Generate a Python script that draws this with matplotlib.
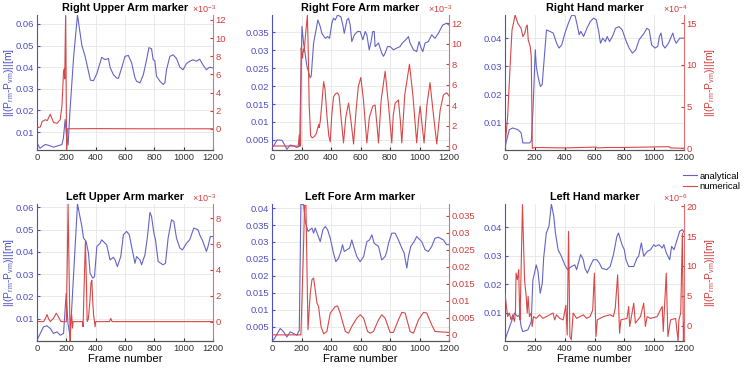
import matplotlib
matplotlib.use("Agg")
import matplotlib.pyplot as plt
from matplotlib.ticker import FuncFormatter
from matplotlib.lines import Line2D

plt.rcParams["font.family"] = ["Liberation Sans", "DejaVu Sans"]
plt.rcParams["mathtext.default"] = "regular"

BLUE = "#4f4fc4"
BLUE_LINE = "#6464c8"
RED = "#d03c3c"
RED_LINE = "#d84848"

# --- Right Upper Arm
rua_fa = [0, 20, 57, 90, 113, 140, 170, 180, 192, 200, 212, 225, 250, 276, 306, 328, 351, 364, 385,
          408, 430, 441, 464, 487, 498, 521, 543, 555, 577, 600, 623, 645, 668, 679, 702, 725, 747,
          763, 781, 792, 803, 815, 838, 860, 872, 883, 906, 928, 951, 974, 996, 1019, 1041, 1064,
          1087, 1109, 1132, 1155, 1177, 1200]
rua_a = [0.0050, 0.0025, 0.0043, 0.0036, 0.0030, 0.0036, 0.0042, 0.0072, 0.0158, 0.0090, 0.0040,
         0.0200, 0.0450, 0.0641, 0.0500, 0.0450, 0.0380, 0.0340, 0.0337, 0.0370, 0.0420, 0.0445,
         0.0435, 0.0440, 0.0400, 0.0365, 0.0350, 0.0348, 0.0396, 0.0450, 0.0454, 0.0420, 0.0350,
         0.0335, 0.0327, 0.0365, 0.0434, 0.0490, 0.0485, 0.0434, 0.0430, 0.0358, 0.0335, 0.0320,
         0.0328, 0.0388, 0.0450, 0.0457, 0.0440, 0.0400, 0.0388, 0.0416, 0.0427, 0.0434, 0.0427,
         0.0437, 0.0410, 0.0388, 0.0400, 0.0396]
rua_fn = [0, 23, 35, 57, 70, 90, 113, 136, 158, 170, 181, 186, 189, 195, 202, 207, 400, 700, 1200]
rua_n = [0.1, 0.2, 0.8, 1.0, 0.9, 1.6, 0.7, 0.6, 1.0, 2.5, 6.3, 6.6, 5.5, 12.5, -2.3, 0.0, 0.02,
         0.0, 0.0]  # x1e-3

# --- Right Fore Arm
rfa_fa = [0, 11, 34, 68, 90, 101, 124, 147, 169, 187, 203, 214, 237, 259, 266, 282, 311, 327, 338,
          361, 377, 390, 406, 417, 429, 444, 467, 480, 490, 508, 519, 530, 541, 559, 580, 598, 616,
          632, 643, 659, 670, 683, 693, 699, 722, 744, 756, 767, 783, 801, 823, 846, 868, 884, 907,
          925, 936, 959, 981, 997, 1011, 1022, 1038, 1060, 1083, 1105, 1128, 1157, 1184, 1200]
rfa_a = [0.0033, 0.0033, 0.0050, 0.0049, 0.0033, 0.0024, 0.0036, 0.0033, 0.0029, 0.0033, 0.0366,
         0.0320, 0.0255, 0.0223, 0.0228, 0.0320, 0.0384, 0.0366, 0.0347, 0.0333, 0.0338, 0.0333,
         0.0375, 0.0389, 0.0384, 0.0398, 0.0393, 0.0370, 0.0347, 0.0384, 0.0389, 0.0370, 0.0324,
         0.0343, 0.0352, 0.0352, 0.0329, 0.0352, 0.0343, 0.0301, 0.0320, 0.0352, 0.0352, 0.0310,
         0.0320, 0.0292, 0.0283, 0.0292, 0.0310, 0.0310, 0.0301, 0.0306, 0.0310, 0.0320, 0.0329,
         0.0338, 0.0320, 0.0301, 0.0296, 0.0324, 0.0306, 0.0296, 0.0320, 0.0324, 0.0343, 0.0333,
         0.0347, 0.0370, 0.0375, 0.0370]
rfa_fn = [0, 178, 185, 189, 194, 198, 203, 207, 212, 218, 228, 240, 246, 252, 262, 272, 285, 300,
          316, 320, 327, 340, 350, 360, 372, 385, 395, 405, 417, 430, 444, 455, 470, 485, 500, 519,
          535, 553, 570, 585, 602, 620, 643, 660, 683, 699, 712, 722, 740, 767, 790, 812, 822, 835,
          857, 870, 880, 900, 932, 955, 981, 993, 1004, 1018, 1031, 1050, 1071, 1095, 1117, 1140,
          1162, 1185, 1200]
rfa_n = [0.0, 0.0, 1.1, 0.0, 0.0, 9.6, 9.0, 8.6, 9.5, 9.2, 11.0, 12.8, 9.0, 4.0, 1.0, 0.8, 0.9,
         1.2, 2.1, 1.8, 2.4, 4.5, 6.3, 5.5, 3.0, 1.0, 0.4, 3.0, 4.8, 5.1, 5.2, 4.9, 2.5, 0.3, 2.8,
         4.2, 2.5, 0.2, 3.5, 5.8, 6.7, 4.5, 0.3, 2.8, 3.9, 4.0, 2.0, 0.3, 4.5, 7.3, 4.0, 0.3, 3.0,
         4.2, 4.5, 2.5, 0.3, 5.0, 8.0, 5.0, 0.3, 2.5, 3.9, 2.0, 0.3, 4.0, 6.2, 3.0, 0.2, 3.5, 5.0,
         5.2, 4.9]  # x1e-3

# --- Right Hand
rh_fa = [0, 7, 29, 52, 86, 108, 120, 165, 176, 188, 203, 210, 221, 237, 249, 278, 301, 323, 346,
         362, 380, 402, 425, 447, 470, 486, 497, 508, 527, 549, 572, 594, 612, 628, 640, 655, 673,
         685, 701, 714, 725, 741, 764, 786, 809, 832, 854, 877, 899, 933, 951, 967, 983, 1006, 1024,
         1035, 1046, 1058, 1073, 1096, 1125, 1137, 1148, 1171, 1200]
rh_a = [0.0006, 0.0030, 0.0076, 0.0082, 0.0076, 0.0065, 0.0029, 0.0029, 0.0035, 0.0150, 0.0359,
        0.0300, 0.0265, 0.0229, 0.0235, 0.0429, 0.0424, 0.0418, 0.0382, 0.0365, 0.0376, 0.0418,
        0.0453, 0.0482, 0.0479, 0.0441, 0.0412, 0.0424, 0.0406, 0.0435, 0.0459, 0.0471, 0.0465,
        0.0424, 0.0382, 0.0400, 0.0388, 0.0406, 0.0388, 0.0400, 0.0412, 0.0435, 0.0441, 0.0429,
        0.0394, 0.0365, 0.0347, 0.0359, 0.0394, 0.0418, 0.0435, 0.0429, 0.0376, 0.0365, 0.0371,
        0.0406, 0.0418, 0.0376, 0.0365, 0.0382, 0.0418, 0.0394, 0.0382, 0.0400, 0.0400]
rh_fn = [0, 18, 34, 47, 68, 86, 108, 120, 133, 142, 149, 156, 169, 176, 183, 200, 400, 612, 620,
         680, 790, 1100, 1110, 1200]
rh_n = [0.1, 3.9, 9.8, 14.2, 16.0, 15.0, 14.4, 13.4, 13.8, 14.6, 14.8, 13.0, 12.2, 11.0, 0.0, 0.1,
        0.05, 0.15, 0.05, 0.1, 0.1, 0.2, 0.05, 0.0]  # x1e-4

# --- Left Upper Arm
lua_fa = [0, 45, 68, 91, 113, 136, 158, 181, 199, 211, 226, 276, 306, 317, 335, 351, 362, 380, 392,
          408, 430, 441, 464, 475, 498, 521, 532, 548, 571, 589, 611, 629, 645, 668, 679, 702, 713,
          736, 752, 770, 781, 797, 808, 826, 860, 876, 894, 917, 933, 951, 974, 992, 1019, 1041,
          1069, 1098, 1114, 1127, 1155, 1166, 1182, 1200]
lua_a = [0.0004, 0.0064, 0.0068, 0.0056, 0.0034, 0.0041, 0.0026, 0.0034, 0.0214, 0.0079, 0.0019,
         0.0615, 0.0514, 0.0462, 0.0447, 0.0394, 0.0304, 0.0282, 0.0289, 0.0424, 0.0439, 0.0454,
         0.0439, 0.0432, 0.0364, 0.0376, 0.0364, 0.0334, 0.0379, 0.0477, 0.0492, 0.0477, 0.0424,
         0.0349, 0.0379, 0.0364, 0.0342, 0.0387, 0.0462, 0.0577, 0.0559, 0.0484, 0.0454, 0.0357,
         0.0342, 0.0349, 0.0462, 0.0544, 0.0537, 0.0462, 0.0417, 0.0409, 0.0439, 0.0454, 0.0507,
         0.0499, 0.0469, 0.0454, 0.0402, 0.0424, 0.0469, 0.0469]
lua_fn = [0, 45, 60, 68, 80, 91, 115, 131, 145, 163, 200, 207, 212, 220, 226, 230, 236, 242, 246,
          310, 314, 322, 330, 337, 342, 350, 360, 368, 374, 380, 386, 392, 396, 400, 495, 503, 512,
          1200]
lua_n = [0.0, 0.0, 0.3, 0.55, 0.2, 0.0, 0.3, 0.65, 0.4, 0.0, 0.0, 5.0, 9.1, 3.0, -1.5, 0.0, 0.6,
         -0.5, 0.0, 0.0, -0.4, 3.0, 6.2, 3.0, 0.0, 0.2, 1.5, 3.0, 3.2, 1.5, 0.5, 0.0, -0.4, 0.0,
         0.0, 0.25, 0.0, 0.0]  # x1e-3

# --- Left Fore Arm
lfa_fa = [0, 11, 56, 79, 101, 124, 147, 169, 185, 196, 214, 226, 244, 271, 282, 293, 327, 345, 361,
          377, 395, 417, 433, 451, 467, 478, 490, 508, 526, 541, 553, 575, 598, 621, 643, 661, 677,
          693, 722, 744, 767, 778, 790, 812, 835, 857, 880, 896, 914, 925, 941, 963, 981, 1004,
          1015, 1038, 1060, 1083, 1105, 1128, 1162, 1184, 1200]
lfa_a = [0.0011, 0.0011, 0.0045, 0.0035, 0.0020, 0.0035, 0.0030, 0.0025, 0.0040, 0.0412, 0.0410,
         0.0360, 0.0331, 0.0341, 0.0326, 0.0341, 0.0301, 0.0336, 0.0346, 0.0336, 0.0311, 0.0267,
         0.0242, 0.0252, 0.0272, 0.0292, 0.0272, 0.0277, 0.0282, 0.0306, 0.0287, 0.0257, 0.0242,
         0.0257, 0.0301, 0.0306, 0.0321, 0.0296, 0.0287, 0.0247, 0.0257, 0.0272, 0.0296, 0.0326,
         0.0326, 0.0306, 0.0282, 0.0267, 0.0223, 0.0257, 0.0287, 0.0301, 0.0316, 0.0306, 0.0301,
         0.0277, 0.0272, 0.0287, 0.0311, 0.0314, 0.0306, 0.0292, 0.0292]
lfa_fn = [0, 196, 210, 221, 230, 237, 244, 259, 271, 282, 293, 305, 316, 332, 350, 372, 395, 429,
          444, 462, 497, 519, 541, 575, 598, 621, 648, 666, 688, 722, 744, 767, 801, 823, 857, 880,
          903, 936, 959, 993, 1027, 1049, 1083, 1105, 1200]
lfa_n = [0.0, 0.0, 0.020, 0.038, 0.038, 0.020, 0.0015, 0.012, 0.0162, 0.0167, 0.0132, 0.0093,
         0.0083, 0.0025, 0.0003, 0.0010, 0.0064, 0.0083, 0.0085, 0.0064, 0.0010, 0.0005, 0.0025,
         0.0049, 0.0059, 0.0049, 0.0010, 0.0005, 0.0010, 0.0044, 0.0059, 0.0049, 0.0007, 0.0007,
         0.0044, 0.0066, 0.0064, 0.0010, 0.0005, 0.0044, 0.0066, 0.0064, 0.0029, 0.0010, 0.0007]

# --- Left Hand
lh_fa = [0, 63, 86, 97, 108, 119, 153, 176, 187, 198, 209, 221, 227, 236, 250, 259, 277, 295, 311,
         327, 338, 356, 378, 401, 419, 446, 468, 480, 498, 507, 525, 536, 552, 570, 592, 615, 633,
         649, 682, 705, 727, 750, 761, 784, 800, 811, 829, 863, 885, 896, 914, 930, 953, 975, 998,
         1009, 1032, 1054, 1065, 1081, 1104, 1117, 1133, 1171, 1189, 1200]
lh_a = [0.0004, 0.0098, 0.0086, 0.0092, 0.0051, 0.0033, 0.0039, 0.0068, 0.0215, 0.0239, 0.0268,
        0.0245, 0.0215, 0.0168, 0.0204, 0.0292, 0.0380, 0.0404, 0.0482, 0.0439, 0.0380, 0.0321,
        0.0298, 0.0268, 0.0251, 0.0262, 0.0268, 0.0251, 0.0286, 0.0304, 0.0286, 0.0256, 0.0239,
        0.0262, 0.0286, 0.0286, 0.0274, 0.0256, 0.0251, 0.0262, 0.0304, 0.0368, 0.0380, 0.0339,
        0.0321, 0.0286, 0.0262, 0.0262, 0.0292, 0.0298, 0.0345, 0.0298, 0.0315, 0.0321, 0.0339,
        0.0333, 0.0339, 0.0327, 0.0339, 0.0310, 0.0286, 0.0333, 0.0321, 0.0386, 0.0392, 0.0382]
lh_fn = [0, 7, 18, 29, 41, 52, 63, 70, 74, 83, 92, 97, 101, 117, 131, 142, 149, 155, 164, 176, 182,
         191, 209, 232, 254, 277, 300, 322, 333, 345, 367, 390, 408, 417, 426, 435, 444, 457, 480,
         525, 547, 570, 588, 599, 610, 619, 660, 705, 727, 739, 755, 768, 777, 818, 829, 836, 863,
         874, 908, 930, 941, 953, 975, 1020, 1054, 1061, 1081, 1092, 1110, 1144, 1160, 1166, 1178,
         1189, 1196, 1200]
lh_n = [5.4, 3.75, 1.5, 2.1, 0.95, 1.8, 0.67, 2.1, 8.8, 7.7, 9.4, 3.2, 0.95, 20.3, 7.7, 4.9, 2.1,
        4.9, 1.5, 2.1, -0.17, 1.5, 1.2, 1.8, 1.2, 1.5, 1.8, 2.1, 0.95, 1.8, 1.2, 0.95, 3.4, -1.6,
        15.8, -1.85, -2.4, 2.1, 1.2, 1.8, 1.2, 1.5, 2.6, 8.8, -1.85, 0.95, 1.5, 1.8, 1.5, 2.9, 8.5,
        -1.3, 0.95, 1.2, 3.2, -0.17, 3.75, 0.4, 1.5, 3.75, -0.17, 1.5, 1.2, 1.5, 3.2, -1.0, 8.8,
        -1.85, 0.95, 1.2, -2.6, 0.95, 2.1, 15.5, -2.6, 0.4]  # x1e-6

panels = [
    ("Right Upper Arm marker", rua_fa, rua_a, rua_fn, rua_n, (0.0017, 0.0641), (-2.34, 12.55),
     [0.01, 0.02, 0.03, 0.04, 0.05, 0.06], [0, 2, 4, 6, 8, 10, 12], r"$\times10^{-3}$"),
    ("Right Fore Arm marker", rfa_fa, rfa_a, rfa_fn, rfa_n, (0.0022, 0.0398), (-0.39, 12.81),
     [0.005, 0.01, 0.015, 0.02, 0.025, 0.03, 0.035], [0, 2, 4, 6, 8, 10, 12], r"$\times10^{-3}$"),
    ("Right Hand marker", rh_fa, rh_a, rh_fn, rh_n, (0.0004, 0.0482), (-0.2, 16.0),
     [0.01, 0.02, 0.03, 0.04], [0, 5, 10, 15], r"$\times10^{-4}$"),
    ("Left Upper Arm marker", lua_fa, lua_a, lua_fn, lua_n, (0.0, 0.0615), (-1.5, 9.1),
     [0.01, 0.02, 0.03, 0.04, 0.05, 0.06], [0, 2, 4, 6, 8], r"$\times10^{-3}$"),
    ("Left Fore Arm marker", lfa_fa, lfa_a, lfa_fn, lfa_n, (0.0008, 0.0412), (-0.0018, 0.0384),
     [0.005, 0.01, 0.015, 0.02, 0.025, 0.03, 0.035, 0.04],
     [0, 0.005, 0.01, 0.015, 0.02, 0.025, 0.03, 0.035], None),
    ("Left Hand marker", lh_fa, lh_a, lh_fn, lh_n, (0.0, 0.0482), (-2.6, 20.4),
     [0.01, 0.02, 0.03, 0.04], [0, 5, 10, 15, 20], r"$\times10^{-6}$"),
]

lefts = [37 / 744, 272 / 744, 505 / 744]
widths = [176 / 744, 177 / 744, 179 / 744]
bottoms = [1 - 150 / 369, 1 - 341 / 369]
heights = [135 / 369, 137 / 369]

gfmt = FuncFormatter(lambda v, p: "{:g}".format(round(v, 6)))
ylab = r"$||(P_{rm}$-$P_{vm})||$[m]"
TICK_FS = 6.8

fig = plt.figure(figsize=(7.44, 3.69), dpi=100)

for i, (title, fa, a, fn, n, ylim_a, ylim_n, yt_a, yt_n, mult) in enumerate(panels):
    r, c = divmod(i, 3)
    ax = fig.add_axes([lefts[c], bottoms[r], widths[c], heights[r]])
    ax2 = ax.twinx()

    ax.plot(fa, a, color=BLUE_LINE, lw=0.8)
    ax2.plot(fn, n, color=RED_LINE, lw=0.8)

    ax.set_xlim(0, 1200)
    ax.set_xticks([0, 200, 400, 600, 800, 1000, 1200])
    ax.set_ylim(*ylim_a)
    ax.set_yticks(yt_a)
    ax.yaxis.set_major_formatter(gfmt)
    ax2.set_ylim(*ylim_n)
    ax2.set_yticks(yt_n)
    ax2.yaxis.set_major_formatter(gfmt)

    ax.grid(True, color="#e6e6e6", lw=0.6)
    ax.set_axisbelow(True)

    ax.tick_params(axis="x", labelsize=TICK_FS, colors="#333333", direction="in", length=2, pad=2)
    ax.tick_params(axis="y", labelsize=TICK_FS, colors=BLUE, direction="in", length=2, pad=2)
    ax2.tick_params(axis="y", labelsize=TICK_FS, colors=RED, direction="in", length=2, pad=2)

    for a_ in (ax, ax2):
        a_.spines["top"].set_visible(False)
    ax.spines["right"].set_visible(False)
    ax2.spines["left"].set_visible(False)
    ax.spines["left"].set_color(BLUE)
    ax2.spines["right"].set_color("#e07070")
    ax2.spines["bottom"].set_color("#555555")
    ax.spines["bottom"].set_color("#555555")

    ax.set_title(title, fontsize=7.8, fontweight="bold", pad=3)
    if mult:
        ax2.text(1.02, 1.0, mult, transform=ax2.transAxes, ha="right", va="bottom",
                 fontsize=6.5, color=RED)
    if c == 0:
        ax.set_ylabel(ylab, color=BLUE, fontsize=7.4)
        ax.yaxis.set_label_coords(-0.118, 0.5)
    if c == 2:
        ax2.set_ylabel(ylab, color=RED, fontsize=7.4)
        ax2.yaxis.set_label_coords(1.105, 0.5)
    if r == 1:
        ax.set_xlabel("Frame number", fontsize=8.2, labelpad=1)

handles = [Line2D([], [], color=BLUE_LINE, lw=0.8), Line2D([], [], color=RED_LINE, lw=0.8)]
fig.legend(handles, ["analytical", "numerical"], loc="upper left",
           bbox_to_anchor=(676 / 744, 1 - 165 / 369), frameon=False, fontsize=6.8,
           handlelength=1.5, handletextpad=0.3, labelspacing=0.15, borderpad=0.2)

fig.savefig("out.png", dpi=100)
